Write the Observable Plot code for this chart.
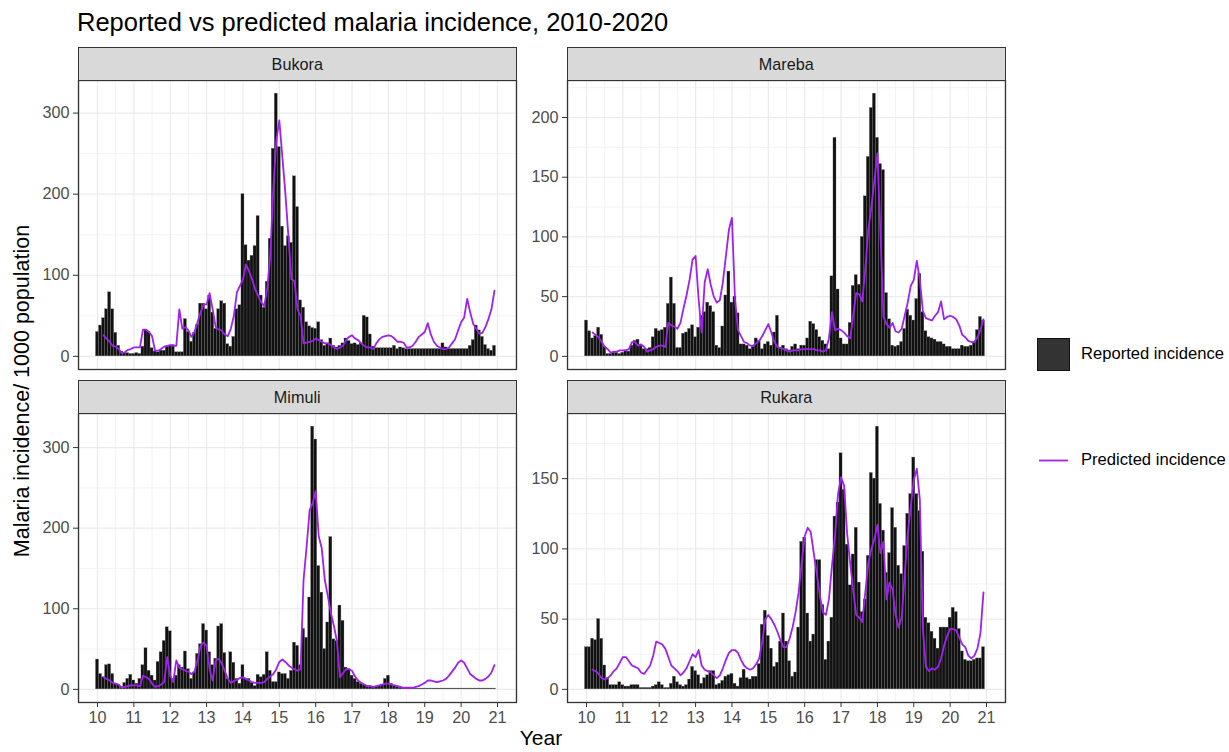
<!DOCTYPE html>
<html>
<head>
<meta charset="utf-8">
<script src="https://cdn.jsdelivr.net/npm/d3@7"></script>
<script src="https://cdn.jsdelivr.net/npm/@observablehq/plot@0.6"></script>
<style>
  body { margin: 0; background: #fff; }
  #chart { position: relative; width: 1229px; height: 752px; font-family: "Liberation Sans", Arial, sans-serif; color: #000; overflow: hidden; background: #fff; }
  .title { position: absolute; left: 77px; top: 9px; font-size: 25.5px; line-height: 26px; white-space: nowrap; }
  .ytitle { position: absolute; left: 22px; top: 391px; font-size: 21.5px; line-height: 22px; white-space: nowrap; transform: translate(-50%, -50%) rotate(-90deg); }
  .xtitle { position: absolute; left: 541px; top: 738px; font-size: 21px; line-height: 24px; white-space: nowrap; transform: translate(-50%, -50%); }
  .strip { position: absolute; background: #d9d9d9; border: 1.3px solid #333; box-sizing: border-box; display: flex; align-items: center; justify-content: center; font-size: 16.2px; color: #1a1a1a; }
  .panel { position: absolute; }
  .legend-item { position: absolute; font-size: 16.6px; color: #000; white-space: nowrap; }
</style>
</head>
<body>
<div id="chart">
  <div class="title">Reported vs predicted malaria incidence, 2010-2020</div>
  <div class="ytitle">Malaria incidence/ 1000 population</div>
  <div class="xtitle">Year</div>
</div>
<script>
// Monthly series, January 2010 to December 2020 (12 values per row = one year)
const bukoraReported = [
  30, 38, 47, 58, 79, 58, 29, 13, 6, 4, 4, 3,
  3, 4, 3, 12, 33, 30, 10, 6, 5, 7, 7, 12,
  13, 14, 5, 5, 5, 46, 30, 18, 29, 39, 65, 65,
  58, 75, 54, 34, 58, 68, 65, 15, 12, 24, 58, 63,
  200, 137, 118, 124, 136, 173, 75, 60, 92, 145, 256, 324,
  258, 160, 136, 148, 140, 222, 184, 69, 60, 42, 37, 35,
  34, 42, 20, 13, 16, 22, 13, 11, 13, 16, 22, 19,
  15, 16, 14, 16, 50, 48, 27, 12, 10, 10, 10, 10,
  10, 10, 13, 9, 11, 10, 9, 9, 9, 9, 9, 9,
  9, 9, 9, 9, 9, 9, 16, 11, 9, 9, 9, 9,
  9, 9, 9, 13, 20, 38, 32, 24, 14, 9, 7, 13
];
const bukoraPredicted = [
  null, null, 26, 22, 18, 13, 12, 9, 4, 5, 8, 9,
  11, 11, 11, 33, 33, 30, 25, 7, 7, 9, 12, 13,
  14, 13, 13, 58, 34, 36, 32, 24, 30, 42, 54, 64,
  64, 78, 58, 36, 33, 32, 27, 25, 34, 50, 79, 87,
  95, 113, 105, 95, 83, 75, 67, 62, 83, 124, 205, 266,
  291, 246, 201, 148, 95, 93, 58, 50, 16, 17, 18, 19,
  22, 20, 18, 16, 16, 14, 11, 9, 11, 13, 20, 24,
  26, 22, 20, 16, 13, 11, 11, 9, 16, 21, 24, 25,
  26, 25, 22, 18, 18, 17, 11, 11, 13, 18, 24, 27,
  30, 41, 27, 18, 13, 11, 9, 9, 11, 16, 21, 32,
  42, 48, 71, 54, 40, 34, 28, 29, 36, 46, 58, 81
];
const marebaReported = [
  30, 21, 15, 17, 24, 18, 8, 2, 2, 3, 3, 2,
  3, 5, 4, 9, 13, 14, 9, 6, 6, 7, 16, 23,
  21, 22, 24, 44, 66, 44, 7, 7, 19, 20, 23, 26,
  16, 24, 34, 37, 45, 42, 37, 9, 7, 25, 51, 71,
  45, 50, 36, 10, 10, 9, 6, 8, 15, 13, 6, 10,
  12, 9, 20, 34, 7, 9, 6, 5, 8, 10, 6, 9,
  9, 15, 29, 27, 22, 16, 13, 10, 6, 67, 183, 56,
  15, 10, 10, 28, 59, 68, 60, 100, 134, 167, 208, 220,
  183, 161, 156, 53, 31, 9, 8, 9, 12, 23, 39, 34,
  30, 48, 69, 37, 21, 16, 15, 14, 12, 12, 10, 8,
  8, 6, 6, 6, 9, 8, 8, 9, 12, 22, 33, 30
];
const marebaPredicted = [
  null, null, 20, 18, 16, 12, 8, 6, 3, 4, 4, 5,
  5, 5, 6, 12, 12, 9, 10, 8, 4, 5, 6, 8,
  9, 9, 8, 28, 26, 25, 23, 28, 40, 51, 64, 81,
  84, 48, 20, 62, 73, 60, 50, 45, 47, 62, 84, 106,
  116, 48, 22, 17, 12, 11, 9, 9, 11, 13, 17, 22,
  27, 20, 12, 8, 7, 6, 5, 4, 5, 5, 5, 6,
  6, 6, 6, 6, 5, 5, 4, 5, 15, 37, 22, 23,
  22, 20, 17, 15, 34, 53, 52, 46, 73, 106, 125, 147,
  170, 103, 33, 27, 24, 28, 21, 20, 23, 34, 45, 59,
  64, 80, 64, 38, 32, 31, 30, 34, 37, 46, 31, 33,
  34, 33, 31, 26, 18, 16, 13, 12, 12, 16, 22, 31
];
const mimuliReported = [
  37, 19, 15, 30, 31, 19, 7, 5, 3, 8, 13, 18,
  11, 7, 13, 30, 51, 23, 17, 11, 34, 46, 60, 77,
  72, 13, 17, 30, 27, 47, 25, 13, 21, 44, 56, 81,
  73, 46, 30, 38, 78, 81, 45, 13, 46, 33, 13, 7,
  30, 13, 13, 8, 4, 18, 15, 18, 46, 23, 9, 9,
  21, 19, 19, 13, 23, 58, 54, 30, 75, 64, 114, 326,
  310, 153, 120, 50, 83, 189, 62, 60, 104, 85, 27, 25,
  17, 13, 9, 7, 5, 4, 4, 3, 3, 4, 6, 13,
  17, 7, 4, 3, 2, 1, 1, 1, 1, 1, 1, 1,
  1, 1, 1, 1, 1, 1, 1, 1, 1, 1, 1, 1,
  1, 1, 1, 1, 1, 1, 1, 1, 1, 1, 1, 1
];
const mimuliPredicted = [
  null, null, 15, 13, 11, 8, 7, 6, 2, 3, 4, 5,
  5, 5, 4, 17, 15, 13, 7, 3, 4, 6, 9, 40,
  17, 9, 36, 27, 25, 23, 22, 19, 22, 36, 54, 58,
  54, 25, 11, 36, 38, 32, 23, 13, 8, 10, 12, 14,
  15, 13, 11, 9, 8, 8, 8, 9, 13, 16, 19, 25,
  34, 37, 34, 30, 27, 25, 23, 25, 136, 177, 222, 231,
  246, 190, 175, 136, 116, 95, 79, 60, 15, 20, 25, 25,
  23, 16, 11, 8, 6, 4, 4, 3, 4, 5, 6, 7,
  7, 6, 5, 4, 3, 2, 2, 2, 2, 3, 4, 6,
  8, 11, 11, 10, 9, 10, 11, 13, 17, 22, 27, 33,
  36, 33, 26, 19, 16, 13, 11, 11, 13, 16, 21, 30
];
const rukaraReported = [
  30, 30, 36, 35, 50, 36, 17, 8, 3, 3, 3, 5,
  3, 2, 2, 3, 3, 3, 1, 1, 1, 1, 2, 3,
  5, 3, 1, 1, 4, 9, 5, 3, 2, 3, 7, 16,
  13, 10, 4, 8, 10, 13, 13, 3, 4, 6, 9, 10,
  11, 4, 2, 8, 14, 8, 7, 9, 9, 18, 46, 56,
  38, 29, 16, 19, 34, 54, 34, 20, 9, 12, 44, 105,
  108, 54, 34, 39, 92, 92, 60, 21, 34, 51, 123, 133,
  168, 142, 103, 74, 96, 115, 76, 55, 64, 95, 154, 150,
  187, 132, 113, 83, 97, 129, 115, 88, 82, 102, 125, 139,
  165, 139, 127, 98, 51, 47, 41, 36, 29, 44, 44, 44,
  51, 58, 55, 43, 27, 21, 20, 20, 21, 22, 22, 30
];
const rukaraPredicted = [
  null, null, 14, 13, 11, 8, 7, 8, 10, 13, 15, 19,
  23, 23, 20, 17, 16, 15, 12, 11, 14, 17, 24, 34,
  33, 32, 29, 23, 17, 15, 13, 10, 12, 15, 20, 25,
  23, 28, 17, 14, 13, 12, 10, 8, 10, 15, 21, 26,
  28, 28, 26, 21, 17, 15, 14, 15, 18, 22, 34, 50,
  53, 50, 46, 41, 35, 30, 30, 36, 44, 55, 69, 90,
  109, 115, 112, 97, 82, 67, 55, 53, 64, 88, 109, 139,
  151, 145, 111, 90, 71, 53, 51, 48, 69, 90, 100, 107,
  117, 97, 105, 64, 76, 71, 53, 44, 51, 81, 111, 130,
  149, 157, 135, 43, 16, 13, 15, 14, 16, 22, 31, 38,
  43, 43, 42, 37, 32, 30, 24, 22, 24, 29, 40, 69
];

const districts = ["Bukora", "Mareba", "Mimuli", "Rukara"];
const reportedSeries = [bukoraReported, marebaReported, mimuliReported, rukaraReported];
const predictedSeries = [bukoraPredicted, marebaPredicted, mimuliPredicted, rukaraPredicted];
const yTickSets = [[0, 100, 200, 300], [0, 50, 100, 150, 200], [0, 100, 200, 300], [0, 50, 100, 150]];
const yearTicks = [2010, 2011, 2012, 2013, 2014, 2015, 2016, 2017, 2018, 2019, 2020, 2021];
const startYear = 2010;

const reportedFill = "#111111";
const predictedColor = "#a020f0";
const gridColor = "#ebebeb";
const fontFamily = '"Liberation Sans", Arial, sans-serif';

// panel geometry (frame edges, in page pixels)
const colLeft = [78, 567];
const panelWidth = 438;
const rowSpan = [{top: 80, bottom: 369, strip: 47}, {top: 413, bottom: 702, strip: 380}];
const marginLeft = 45, marginRight = 2, marginTop = 1;

const xDomain = [2009.4775, 2021.5225];
const xMinor = d3.range(2009.5, 2021.6, 1);

const chart = document.getElementById("chart");

districts.forEach((name, k) => {
  const col = k % 2, row = Math.floor(k / 2);
  const span = rowSpan[row];
  const isBottom = row === 1;
  const h = span.bottom - span.top;
  const marginBottom = isBottom ? 34 : 1;

  const rows = reportedSeries[k].map((v, i) => ({
    t: startYear + i / 12,
    reported: v,
    predicted: predictedSeries[k][i]
  }));
  const yMax = d3.max(rows, r => Math.max(r.reported, r.predicted ?? 0));
  const yTicks = yTickSets[k];
  const step = yTicks[1] - yTicks[0];
  const yMinor = yTicks.map(v => v + step / 2).filter(v => v < yMax * 1.05);

  const plot = Plot.plot({
    width: marginLeft + panelWidth + marginRight,
    height: marginTop + h + marginBottom,
    marginLeft, marginRight, marginTop, marginBottom,
    style: {background: "none", fontFamily, fontSize: "16.2px", overflow: "visible"},
    x: {domain: xDomain, axis: null},
    y: {domain: [-0.05 * yMax, 1.05 * yMax], axis: null},
    marks: [
      Plot.ruleX(xMinor, {stroke: gridColor, strokeWidth: 0.6}),
      Plot.ruleY(yMinor, {stroke: gridColor, strokeWidth: 0.6}),
      Plot.ruleX(yearTicks, {stroke: gridColor, strokeWidth: 1.2}),
      Plot.ruleY(yTicks, {stroke: gridColor, strokeWidth: 1.2}),
      Plot.rectY(rows, {
        x1: r => r.t - 0.5 / 12,
        x2: r => r.t + 0.5 / 12,
        y1: 0,
        y2: "reported",
        fill: reportedFill,
        stroke: "#6e6e6e",
        strokeWidth: 0.3
      }),
      Plot.line(rows.filter(r => r.predicted != null), {
        x: "t", y: "predicted", stroke: predictedColor, strokeWidth: 1.8
      }),
      Plot.axisY(yTicks, {
        tickSize: 5, tickPadding: 4, stroke: "#333", color: "#4d4d4d",
        fontSize: 16.2, label: null
      }),
      ...(isBottom ? [Plot.axisX(yearTicks, {
        tickSize: 5, tickPadding: 4, stroke: "#333", color: "#4d4d4d",
        fontSize: 16.2, label: null, tickFormat: d => String(d - 2000)
      })] : []),
      Plot.frame({stroke: "#333", strokeWidth: 1.3})
    ]
  });
  plot.classList.add("panel");
  plot.style.left = (colLeft[col] - marginLeft) + "px";
  plot.style.top = (span.top - marginTop) + "px";
  chart.appendChild(plot);

  const strip = document.createElement("div");
  strip.className = "strip";
  strip.style.left = (colLeft[col] - 0.5) + "px";
  strip.style.top = span.strip + "px";
  strip.style.width = (panelWidth + 1.5) + "px";
  strip.style.height = (span.top - span.strip + 1) + "px";
  strip.textContent = name;
  chart.appendChild(strip);
});

// legend
function legendEntry(top, keySvg, label) {
  const key = document.createElement("div");
  key.className = "legend-item";
  key.style.left = "1036px";
  key.style.top = top + "px";
  key.innerHTML = keySvg;
  chart.appendChild(key);
  const text = document.createElement("div");
  text.className = "legend-item";
  text.style.left = "1081px";
  text.style.top = (top + 8) + "px";
  text.style.lineHeight = "18px";
  text.textContent = label;
  chart.appendChild(text);
}
legendEntry(337,
  `<svg width="35" height="35"><rect x="1.5" y="1.5" width="32" height="32" fill="#333" stroke="#111" stroke-width="1"/></svg>`,
  "Reported incidence");
legendEntry(443,
  `<svg width="35" height="35"><line x1="3" x2="32" y1="17.5" y2="17.5" stroke="${predictedColor}" stroke-width="1.8"/></svg>`,
  "Predicted incidence");
</script>
</body>
</html>
